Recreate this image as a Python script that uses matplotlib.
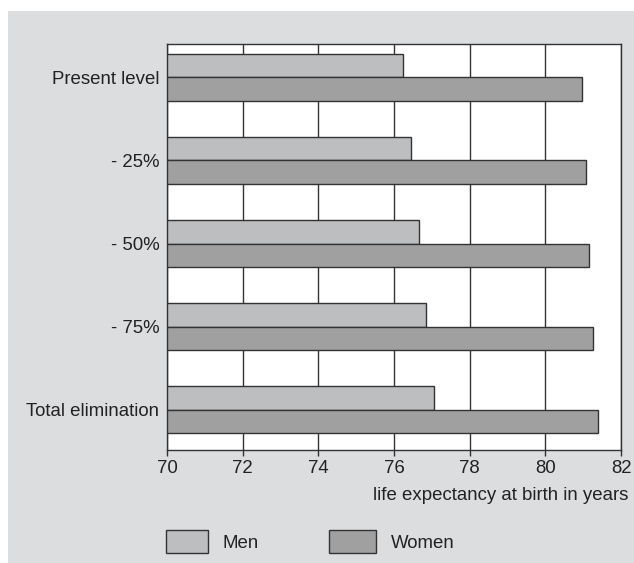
import matplotlib
matplotlib.use("Agg")
import matplotlib.pyplot as plt
from matplotlib.patches import Rectangle
import numpy as np

categories = ["Present level", "- 25%", "- 50%", "- 75%", "Total elimination"]
men = [76.25, 76.45, 76.65, 76.85, 77.05]
women = [80.97, 81.07, 81.16, 81.26, 81.38]
xticks = [70, 72, 74, 76, 78, 80, 82]
series_names = ["Men", "Women"]

plt.rcParams['font.family'] = ['Liberation Sans', 'DejaVu Sans']
W, H = 634, 563
fig = plt.figure(figsize=(W / 100, H / 100), dpi=100, facecolor="white")

bg = "#dcdddf"
men_c = "#bdbebf"
women_c = "#a0a0a1"
edge = "#333333"
txt = "#222222"

# gray panel
fig.patches.append(Rectangle((8 / W, 0), 1 - 8 / W, (H - 11) / H, transform=fig.transFigure,
                             facecolor=bg, edgecolor="none", zorder=-10))

ax = fig.add_axes([167 / W, (H - 450) / H, (621 - 167) / W, (450 - 44) / H])
ax.set_facecolor("white")

y = np.arange(len(categories))
h = 0.28
base = 70
ax.barh(y - h / 2, np.array(men) - base, left=base, height=h, color=men_c,
        edgecolor=edge, linewidth=1.0, zorder=3)
ax.barh(y + h / 2, np.array(women) - base, left=base, height=h, color=women_c,
        edgecolor=edge, linewidth=1.0, zorder=3)

ax.set_xlim(70, 82)
ax.set_ylim(4 + 0.484, -0.40)
ax.set_xticks(xticks)
ax.set_xticklabels([str(t) for t in xticks])
ax.set_yticks(y)
ax.set_yticklabels(categories)
ax.xaxis.grid(True, color=edge, linewidth=1.0, zorder=1)
ax.set_axisbelow(True)
ax.tick_params(axis="x", length=4.5, width=1.0, color=edge, pad=3,
               labelsize=13.4, labelcolor=txt)
ax.tick_params(axis="y", length=0, pad=5.5, labelsize=13.4, labelcolor=txt)
for s in ax.spines.values():
    s.set_color(edge)
    s.set_linewidth(1.0)

fig.text(628 / W, (H - 495) / H, "life expectancy at birth in years", ha="right",
         va="center", fontsize=13.4, color=txt)

# legend
colors = [men_c, women_c]
patch_x = [166, 329]
patch_w = [42, 47]
text_x = [223, 391]
for name, c, px, pw, tx in zip(series_names, colors, patch_x, patch_w, text_x):
    fig.patches.append(Rectangle((px / W, (H - 553) / H), pw / W, 23 / H,
                                 transform=fig.transFigure, facecolor=c,
                                 edgecolor=edge, linewidth=1.0))
    fig.text(tx / W, (H - 543) / H, name, ha="left", va="center", fontsize=13.4, color=txt)

fig.savefig("out.png", dpi=100, facecolor="white")
